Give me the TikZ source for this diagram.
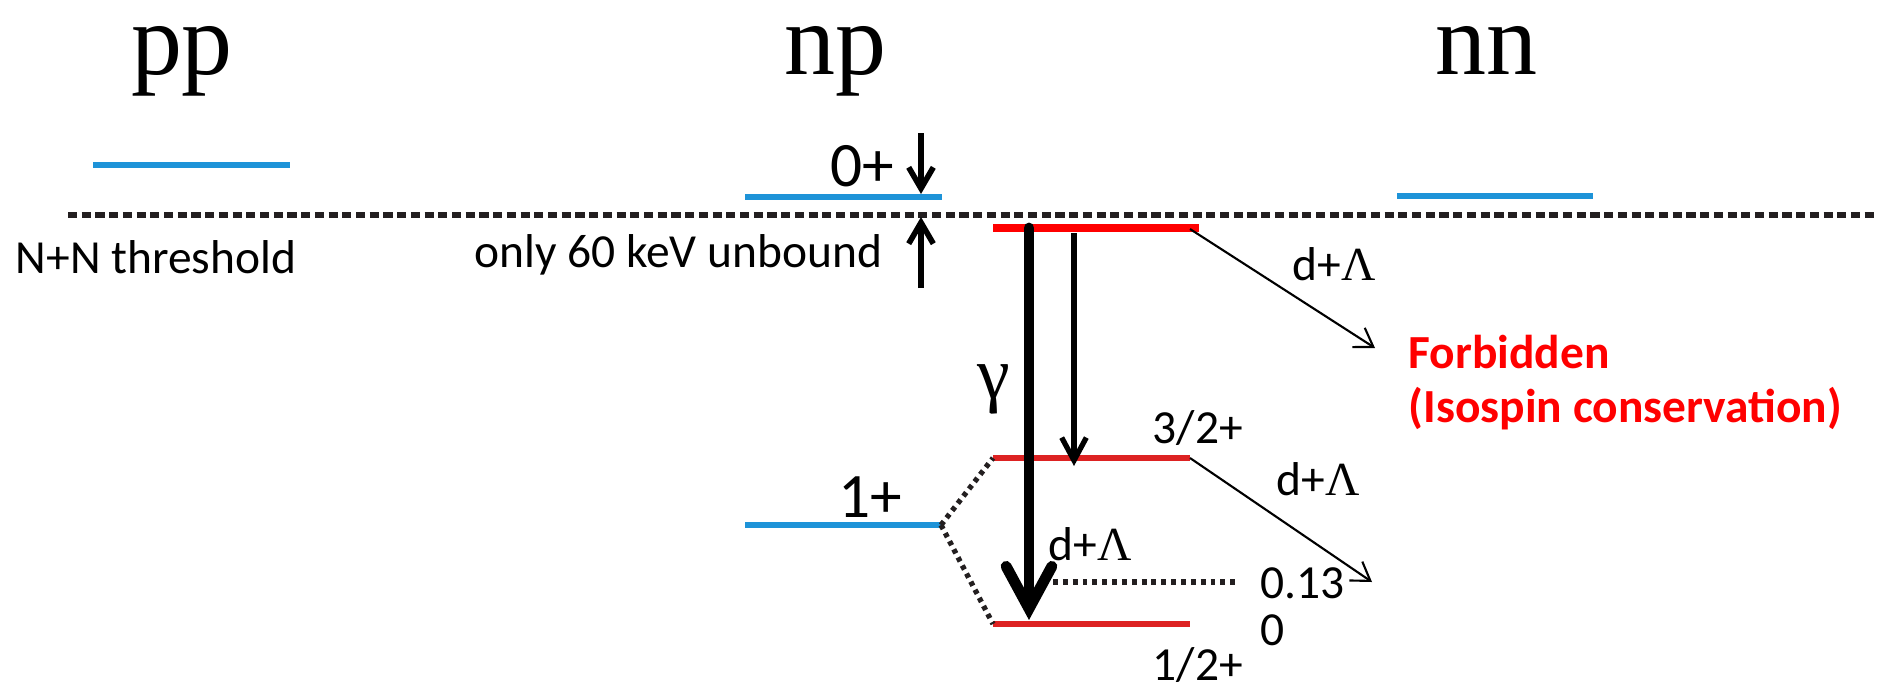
\documentclass[tikz,border=0pt]{standalone}
\usepackage{fontspec}
\setmainfont{Carlito}
\newfontfamily\serifgreek{Liberation Serif}
\usetikzlibrary{arrows.meta}

\definecolor{lvBlue}{HTML}{1E93D8}
\definecolor{lvRed}{HTML}{FF0000}
\definecolor{lvDarkRed}{HTML}{DD2222}
\definecolor{lvDash}{HTML}{231F20}

\begin{document}
\begin{tikzpicture}[
    x=0.01cm, y=-0.01cm,
    every node/.style={inner sep=0pt, color=black},
    pairlbl/.style={font=\serifgreek\fontsize{29}{30}\selectfont, anchor=base,
        text height=14pt, text depth=6pt},
    txt/.style={font=\fontsize{13.5}{15.6}\selectfont, anchor=base west},
    spinlbl/.style={font=\fontsize{18}{20}\selectfont, anchor=base west},
    bluelvl/.style={lvBlue, line width=1.6pt},
    redlvl/.style={lvDarkRed, line width=1.7pt},
    thresh/.style={lvDash, line width=1.5pt, dash pattern=on 2.6pt off 1.3pt},
    link/.style={lvDash, line width=1.5pt, dash pattern=on 1.3pt off 1.3pt},
    gammabig/.style={line width=3.1pt, line cap=round,
        -{Straight Barb[length=12pt, width=13pt, line cap=round]}},
    gammasmall/.style={line width=1.5pt,
        -{Straight Barb[length=6.5pt, width=7pt]}},
    gaparrow/.style={line width=1.6pt,
        -{Straight Barb[length=6pt, width=7pt]}},
    decay/.style={line width=0.6pt,
        -{Straight Barb[length=5pt, width=6.5pt]}},
]
\useasboundingbox (0,0) rectangle (1878,687);

% ----------------------------------------------------------------------
% Columns: pp / np / nn
% ----------------------------------------------------------------------
\node[pairlbl] (lblpp) at (182,74) {pp};
\node[pairlbl] (lblnp) at (835,74) {np};
\node[pairlbl] (lblnn) at (1486,74) {nn};

% level end points (pixel units, y downwards)
\coordinate (pp0L) at (93,165);   \coordinate (pp0R) at (290,165);
\coordinate (np0L) at (745,197);  \coordinate (np0R) at (942,197);
\coordinate (nn0L) at (1397,196); \coordinate (nn0R) at (1593,196);
\coordinate (np1L) at (745,525);  \coordinate (np1R) at (941,525);
\coordinate (hyTL) at (993,228);  \coordinate (hyTR) at (1199,228);
\coordinate (hyEL) at (993,458);  \coordinate (hyER) at (1190,458);
\coordinate (hyGL) at (993,624);  \coordinate (hyGR) at (1190,624);
\coordinate (thrL) at (68,215);   \coordinate (thrR) at (1878,215);

% N+N threshold
\draw[thresh] (thrL) -- (thrR);
\node[txt] (thrlbl) at (15,273) {N+N threshold};

% T=1 levels (blue)
\draw[bluelvl] (pp0L) -- (pp0R);
\draw[bluelvl] (np0L) -- (np0R);
\draw[bluelvl] (nn0L) -- (nn0R);
\draw[bluelvl] (np1L) -- (np1R);
\node[spinlbl] (spin0) at (830,186) {0+};
\node[spinlbl] (spin1) at (838,517) {1+};

% 60 keV gap
\coordinate (gapA) at (921,133); \coordinate (gapAtip) at (921,194);
\coordinate (gapB) at (921,288); \coordinate (gapBtip) at (921,217);
\draw[gaparrow] (gapA) -- (gapAtip);
\draw[gaparrow] (gapB) -- (gapBtip);
\node[txt, anchor=base east] (unbound) at (883,267) {only 60 keV unbound};

% hypernuclear levels (red)
\draw[lvRed, line width=2pt] (hyTL) -- (hyTR);
\draw[redlvl] (hyEL) -- (hyER);
\draw[redlvl] (hyGL) -- (hyGR);
\draw[link] (np1R) -- (hyEL);
\draw[link] (np1R) -- (hyGL);
\node[txt] (spin32) at (1152,443) {3/2+};
\node[txt] (spin12) at (1152,680) {1/2+};

% gamma transitions
\coordinate (gBigTop) at (1029,228);   \coordinate (gBigTip) at (1029,620);
\coordinate (gSmTop) at (1074,233);    \coordinate (gSmTip) at (1074,466);
\draw[gammabig] (gBigTop) -- (gBigTip);
\draw[gammasmall] (gSmTop) -- (gSmTip);
\node[font=\serifgreek\fontsize{21}{22}\selectfont, anchor=base]
    (gam) at (994,398) {γ};

% d+Lambda threshold and energies
\coordinate (dlL) at (1053,582); \coordinate (dlR) at (1236,582);
\draw[link, dash pattern=on 1.4pt off 1.4pt] (dlL) -- (dlR);
\node[txt] (dlam) at (1048,560) {d+{\serifgreek Λ}};
\node[txt] (e013) at (1260,598) {0.13};
\node[txt] (e0) at (1260,645) {0};

% d+Lambda decays
\coordinate (decTtip) at (1375,348);
\coordinate (decEtip) at (1372,582);
\draw[decay] (1190,229) -- (decTtip);
\draw[decay] (hyER) -- (decEtip);
\node[txt] (dlamT) at (1292,280) {d+{\serifgreek Λ}};
\node[txt] (dlamE) at (1276,495) {d+{\serifgreek Λ}};

\node[txt, anchor=north west, align=left, lvRed,
      font=\bfseries\fontsize{13.5}{15.6}\selectfont]
    (forbid) at (1408,334) {Forbidden\\(Isospin conservation)};

\end{tikzpicture}
\end{document}
